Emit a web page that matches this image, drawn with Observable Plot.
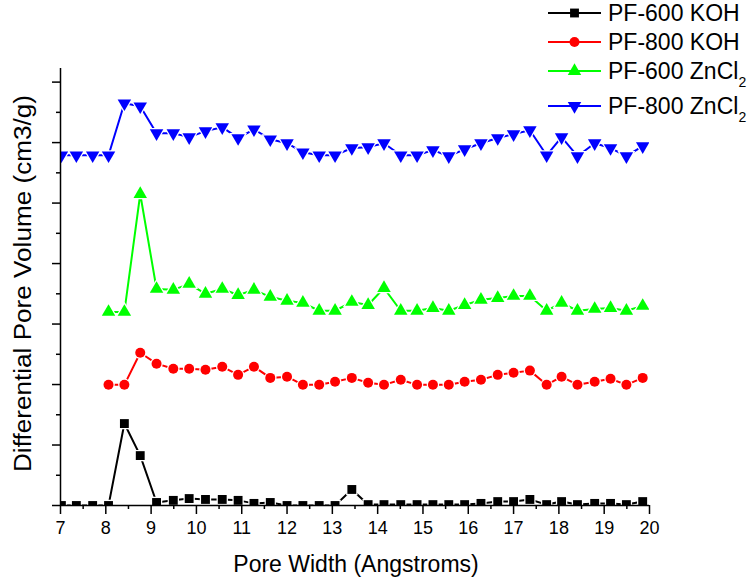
<!DOCTYPE html>
<html><head><meta charset="utf-8">
<script src="https://cdn.jsdelivr.net/npm/d3@7"></script>
<script src="https://cdn.jsdelivr.net/npm/@observablehq/plot@0.6"></script>
<style>
body{margin:0;background:#fff;font-family:Arial,"Liberation Sans",sans-serif;}
#chart{width:752px;height:583px;}
</style></head><body><div id="chart"></div>
<script>
// Pore width (Angstroms)
const poreWidth = [7.02,7.35,7.71,8.06,8.41,8.76,9.12,9.49,9.84,10.20,10.57,10.92,11.27,11.63,12.00,12.35,12.71,13.06,13.43,13.79,14.14,14.51,14.87,15.22,15.57,15.92,16.28,16.65,17.00,17.36,17.73,18.06,18.41,18.79,19.14,19.49,19.85];
// Differential pore volume (offset, arbitrary units, one minor tick = 1)
const pf600KOH = [0,0,0,0,2.71,1.65,0.10,0.17,0.23,0.20,0.20,0.17,0.07,0.10,0,0,0,0,0.53,0.03,0.03,0.03,0.03,0.03,0.03,0.03,0.07,0.13,0.13,0.20,0.03,0.13,0.03,0.07,0.07,0.03,0.13];
const pf800KOH = [null,null,null,3.99,3.99,5.05,4.69,4.52,4.52,4.49,4.59,4.32,4.59,4.22,4.26,3.99,3.99,4.09,4.22,4.06,3.99,4.16,3.99,3.99,3.99,4.09,4.16,4.32,4.39,4.46,3.99,4.26,3.99,4.09,4.19,3.99,4.22];
const pf600ZnCl2 = [null,null,null,6.40,6.40,10.30,7.16,7.13,7.33,7.00,7.16,6.96,7.13,6.90,6.77,6.70,6.44,6.44,6.73,6.63,7.19,6.44,6.44,6.53,6.44,6.63,6.80,6.86,6.93,6.93,6.44,6.70,6.44,6.50,6.53,6.44,6.60];
const pf800ZnCl2 = [11.58,11.58,11.58,11.58,13.30,13.20,12.31,12.31,12.18,12.38,12.51,12.15,12.44,12.11,11.98,11.68,11.58,11.58,11.82,11.85,11.98,11.58,11.58,11.75,11.55,11.78,11.98,12.15,12.28,12.41,11.58,12.18,11.55,11.98,11.82,11.55,11.88];

const seriesNames = ["PF-600 KOH","PF-800 KOH","PF-600 ZnCl","PF-800 ZnCl"];
const seriesSubs = ["","","2","2"];
const seriesColors = ["#000000","#ff0000","#00ff00","#0000ff"];
const xMajorTicks = d3.range(7, 21, 1);
const xMinorTicks = d3.range(7.5, 20, 1);
const yMajorTicks = d3.range(0, 15, 2);
const yMinorTicks = d3.range(1, 14, 2);
const xTitle = "Pore Width (Angstroms)";
const yTitle = "Differential Pore Volume (cm3/g)";

const triangleDown = {
  draw(ctx, size) {
    const s3 = Math.sqrt(3);
    const y = -Math.sqrt(size / (3 * s3));
    ctx.moveTo(0, -2 * y);
    ctx.lineTo(-s3 * y, y);
    ctx.lineTo(s3 * y, y);
    ctx.closePath();
  }
};
const seriesSymbols = ["square","circle","triangle",triangleDown];
const seriesValues = [pf600KOH, pf800KOH, pf600ZnCl2, pf800ZnCl2];

const marks = [];
seriesValues.forEach((vals, i) => {
  const rows = poreWidth.map((x, j) => ({x, y: vals[j]})).filter(d => d.y != null);
  marks.push(Plot.line(rows, {x: "x", y: "y", stroke: seriesColors[i], strokeWidth: 2, clip: true}));
});
seriesValues.forEach((vals, i) => {
  const rows = poreWidth.map((x, j) => ({x, y: vals[j]})).filter(d => d.y != null);
  marks.push(Plot.dot(rows, {x: "x", y: "y", symbol: seriesSymbols[i], r: 5, fill: seriesColors[i], stroke: "white", strokeWidth: 2.5, paintOrder: "stroke", clip: true}));
});
marks.push(
  Plot.ruleY([0], {stroke: "black", strokeWidth: 1.5}),
  Plot.ruleX([7], {stroke: "black", strokeWidth: 1.5}),
  Plot.axisX(xMajorTicks, {tickSize: 9, tickPadding: 7, strokeWidth: 1.5, label: null, fontSize: 18, tickFormat: d => String(d)}),
  Plot.axisX(xMinorTicks, {tickSize: 4, strokeWidth: 1.5, label: null, tickFormat: () => ""}),
  Plot.axisY(yMajorTicks, {tickSize: 8, strokeWidth: 1.5, label: null, tickFormat: () => ""}),
  Plot.axisY(yMinorTicks, {tickSize: 4, strokeWidth: 1.5, label: null, tickFormat: () => ""})
);

const plot = Plot.plot({
  width: 752, height: 583,
  marginLeft: 60, marginRight: 103, marginTop: 68, marginBottom: 78,
  x: {domain: [7, 20], label: null},
  y: {domain: [0, 14.45], label: null},
  style: {fontFamily: "Arial, 'Liberation Sans', sans-serif", fontSize: "18px", color: "black", background: "white", overflow: "visible"},
  marks
});
document.getElementById("chart").appendChild(plot);

const svg = d3.select(plot);
svg.append("text").attr("x", 356).attr("y", 572).attr("text-anchor", "middle")
  .attr("font-size", 23).attr("fill", "black").text(xTitle);
svg.append("text").attr("transform", "translate(31,283.5) rotate(-90)").attr("text-anchor", "middle")
  .attr("font-size", 23).attr("fill", "black")
  .attr("textLength", 377).attr("lengthAdjust", "spacingAndGlyphs").text(yTitle);

// legend
const legendY = [13, 42, 71, 106];
const lg = svg.append("g").attr("text-anchor", "start");
seriesNames.forEach((name, i) => {
  const g = lg.append("g").attr("transform", `translate(0,${legendY[i]})`);
  g.append("line").attr("x1", 548).attr("x2", 601).attr("y1", 0).attr("y2", 0)
    .attr("stroke", seriesColors[i]).attr("stroke-width", 2);
  const sym = typeof seriesSymbols[i] === "string"
    ? {square: d3.symbolSquare, circle: d3.symbolCircle, triangle: d3.symbolTriangle}[seriesSymbols[i]]
    : seriesSymbols[i];
  g.append("path").attr("transform", "translate(574.5,0)")
    .attr("d", d3.symbol(sym, Math.PI * 25)()).attr("fill", seriesColors[i]);
  const t = g.append("text").attr("x", 608).attr("y", 8).attr("text-anchor", "start")
    .attr("font-size", 23).attr("fill", "black").text(name);
  if (seriesSubs[i]) t.append("tspan").attr("font-size", 14).attr("dy", 8).text(seriesSubs[i]);
});
</script></body></html>
